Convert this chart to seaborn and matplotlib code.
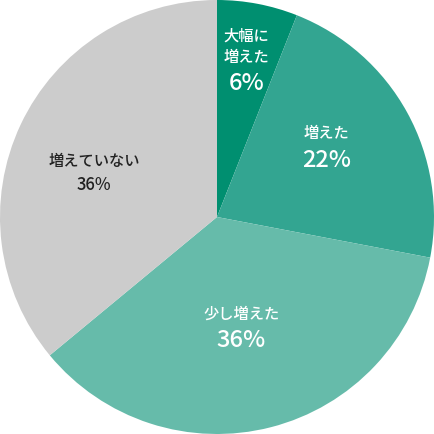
import numpy as np
import matplotlib
matplotlib.use("Agg")
import matplotlib.pyplot as plt
import seaborn as sns

# 回答データ
labels = ['大幅に\n増えた', '増えた', '少し増えた', '増えていない']
values = [6, 22, 36, 36]
colors = ['#008f70', '#33a591', '#66bbaa', '#cccccc']
text_colors = ['white', 'white', 'white', '#222222']
label_r = [0.69, 0.6, 0.52, 0.6]
label_shift = [0.5, -4, 2, -6]
label_size = [11, 11, 11, 11]
pct_size = [17, 17, 17, 12]

sns.set_theme(style='white')
plt.rcParams['font.family'] = ['Noto Sans CJK JP', 'DejaVu Sans']

fig = plt.figure(figsize=(4.34, 4.34), dpi=100)
ax = fig.add_axes([0, 0, 1, 1])
wedges, _ = ax.pie(values, colors=colors, startangle=90, counterclock=False,
                   radius=1.0, wedgeprops=dict(linewidth=0))

for w, lab, v, tc, r, sh, ls, ps in zip(wedges, labels, values, text_colors,
                                        label_r, label_shift, label_size, pct_size):
    ang = np.deg2rad((w.theta1 + w.theta2) / 2 - sh)
    x, y = r * np.cos(ang), r * np.sin(ang)
    ax.text(x, y + 0.02, lab, ha='center', va='bottom', color=tc,
            fontsize=ls, fontweight='medium', linespacing=1.3)
    ax.text(x, y - 0.01, f'{v}%', ha='center', va='top', color=tc,
            fontsize=ps, fontweight='medium')

ax.set_xlim(-1, 1)
ax.set_ylim(-1, 1)
ax.set_aspect('equal')
ax.axis('off')
fig.savefig('out.png', dpi=100, facecolor='white')
